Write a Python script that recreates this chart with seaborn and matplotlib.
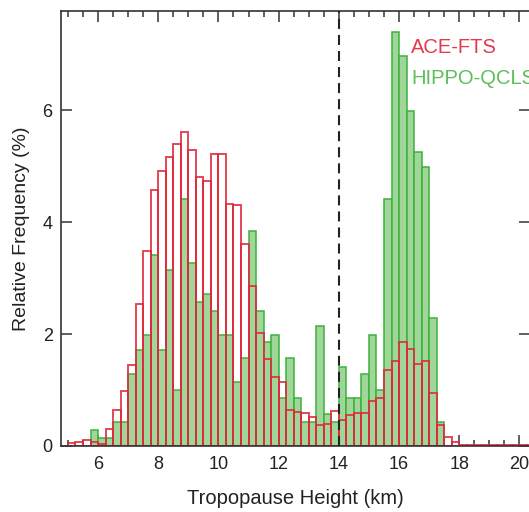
#!/usr/bin/env python3

import numpy as np
import pandas as pd
import matplotlib as mpl
mpl.use("Agg")
import matplotlib.pyplot as plt
import seaborn as sns
from matplotlib.ticker import MultipleLocator

## data (relative frequency in %, 0.25 km bins from 5 km)
bin_edges = [float(b) for b in np.arange(5.0, 20.51, 0.25)]

ace_fts = [0.05, 0.08, 0.10, 0.07, 0.04, 0.30, 0.65, 0.99, 1.45, 2.53,
           3.48, 4.57, 4.92, 5.16, 5.40, 5.60, 5.28, 4.80, 4.74, 5.22,
           5.22, 4.33, 4.31, 3.60, 2.86, 2.01, 1.55, 1.24, 1.15, 0.65,
           0.61, 0.59, 0.51, 0.37, 0.39, 0.63, 0.46, 0.55, 0.59, 0.59,
           0.81, 0.85, 1.35, 1.52, 1.85, 1.73, 1.47, 1.52, 0.95, 0.37,
           0.16, 0.08, 0.01, 0.01, 0.01, 0.01, 0.01, 0.01, 0.01, 0.01,
           0.01, 0.01]

hippo_qcls = [0.0, 0.0, 0.0, 0.29, 0.14, 0.14, 0.43, 0.43, 1.28, 1.71,
              1.99, 3.42, 1.71, 3.14, 1.00, 4.41, 3.27, 2.57, 2.71, 2.42,
              1.99, 1.99, 1.14, 1.57, 3.84, 2.42, 1.85, 1.99, 0.86, 1.57,
              0.86, 0.43, 0.43, 2.14, 0.57, 0.43, 1.42, 0.86, 0.86, 1.28,
              1.99, 1.00, 4.41, 7.39, 6.96, 5.98, 5.26, 4.98, 2.28, 0.43,
              0.0, 0.0, 0.0, 0.0, 0.0, 0.0, 0.0, 0.0, 0.0, 0.0,
              0.0, 0.0]

labels = ["ACE-FTS", "HIPPO-QCLS"]
tropopause_cut = 14.0

red = "#e0283a"
green_edge = "#3cb23a"
green_face = "#a0d69a"

sns.set_style("ticks")
plt.rcParams['font.family'] = ['Liberation Sans', 'DejaVu Sans']
plt.rcParams['axes.edgecolor'] = '#333333'
plt.rcParams['xtick.color'] = '#444444'
plt.rcParams['ytick.color'] = '#444444'

df = pd.DataFrame({'height': [b + 0.125 for b in bin_edges[:-1]],
                   'ace': ace_fts,
                   'hippo': hippo_qcls})

fig = plt.figure(figsize=(5.29, 5.12), dpi=100)
# the original figure is cropped at the right spine
xlim = (4.77, 20.35)
ax = fig.add_axes([61 / 529, 66 / 512, 469 / 529, 435 / 512])

# HIPPO first (filled), ACE outlines drawn on top
sns.histplot(data=df, x='height', weights='hippo', bins=bin_edges, fill=True,
             color=green_face, alpha=1.0, edgecolor=green_edge, linewidth=1.1, ax=ax)
for p in list(ax.patches):
    if p.get_height() == 0:
        p.remove()
for p in ax.patches:
    p.set_facecolor(green_face)
    p.set_edgecolor(green_edge)

sns.histplot(data=df, x='height', weights='ace', bins=bin_edges, fill=False,
             color=red, alpha=0.85, linewidth=1.4, ax=ax)

ax.axvline(tropopause_cut, color="#222222", lw=1.5, ls=(0, (4.8, 2.9)), zorder=5)

ax.set_xlim(*xlim)
ax.set_ylim(0, 7.77)
ax.xaxis.set_major_locator(MultipleLocator(2))
ax.xaxis.set_minor_locator(MultipleLocator(0.5))
ax.yaxis.set_major_locator(MultipleLocator(2))
ax.tick_params(which='both', direction='in', top=True, right=True, labelsize=13,
               labelcolor='#222222')
ax.tick_params(which='major', length=8, width=1.2)
ax.tick_params(which='minor', length=4.5, width=1.2)
ax.tick_params(axis='x', pad=7)
ax.tick_params(axis='y', pad=6)
for s in ax.spines.values():
    s.set_linewidth(1.2)

ax.set_xlabel("Tropopause Height (km)", fontsize=14.5, color='#222222', labelpad=12)
ax.set_ylabel("Relative Frequency (%)", fontsize=14, color='#222222', labelpad=9)

ax.text(16.4, 7.11, labels[0], color="#e33a4c", fontsize=14.5, va='center', ha='left')
ax.text(16.4, 6.57, labels[1], color="#5cbf57", fontsize=14.5, va='center', ha='left')

plt.savefig("out.png", dpi=100)
